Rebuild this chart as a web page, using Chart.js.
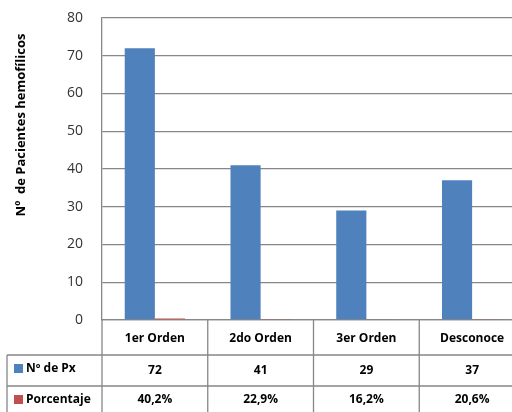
<!DOCTYPE html>
<html>
<head>
<meta charset="utf-8">
<script src="https://cdn.jsdelivr.net/npm/chart.js@4.4.1/dist/chart.umd.min.js"></script>
<style>
  html, body { margin: 0; padding: 0; background: #fff; overflow: hidden; }
  #wrap { width: 512px; height: 412px; overflow: hidden; }
</style>
</head>
<body>
<div id="wrap"><canvas id="grafico" width="528" height="412"></canvas></div>
<script>
// datos del grafico
const categorias = ['1er Orden', '2do Orden', '3er Orden', 'Desconoce'];
const nroPx = [72, 41, 29, 37];
const porcentaje = [40.2, 22.9, 16.2, 20.6];
const nombresSeries = ['Nº de Px', 'Porcentaje'];
const tituloY = 'Nº  de Pacientes hemofílicos';
const yMin = 0, yMax = 80, yPaso = 10;

const AZUL = '#4F81BD', ROJO = '#C0504D', GRIS = '#878787';
const FUENTE = '"Open Sans", Lato, sans-serif';

// tabla de datos debajo del eje (estilo Excel)
const tablaDatos = {
  id: 'tablaDatos',
  afterDraw(chart) {
    const ctx = chart.ctx, x = chart.scales.x, area = chart.chartArea;
    const bottom = 412, fila1 = 355, fila2 = 386, izq = 7;
    const paso = x.getPixelForValue(1) - x.getPixelForValue(0);
    ctx.save();
    ctx.strokeStyle = GRIS;
    ctx.lineWidth = 1.3;
    ctx.beginPath();
    // eje vertical hasta abajo
    ctx.moveTo(area.left, area.bottom); ctx.lineTo(area.left, bottom);
    // separadores de columnas
    for (let i = 0; i < categorias.length; i++) {
      const b = x.getPixelForValue(i) + paso / 2;
      ctx.moveTo(b, area.bottom); ctx.lineTo(b, bottom);
    }
    // filas
    ctx.moveTo(izq, fila1); ctx.lineTo(area.right, fila1);
    ctx.moveTo(izq, fila2); ctx.lineTo(area.right, fila2);
    ctx.moveTo(izq, fila1); ctx.lineTo(izq, bottom);
    ctx.stroke();

    ctx.fillStyle = '#000';
    ctx.font = 'bold 12px ' + FUENTE;
    ctx.textAlign = 'center';
    ctx.textBaseline = 'middle';
    categorias.forEach((c, i) => {
      const cx = x.getPixelForValue(i);
      ctx.fillText(c, cx, 339);
      ctx.fillText(String(nroPx[i]), cx, 371);
      ctx.fillText(porcentaje[i].toFixed(1).replace('.', ',') + '%', cx, 400);
    });
    // leyenda en la tabla
    ctx.textAlign = 'left';
    ctx.fillStyle = AZUL; ctx.fillRect(14, 364, 9, 9);
    ctx.fillStyle = ROJO; ctx.fillRect(14, 395, 9, 9);
    ctx.fillStyle = '#000';
    ctx.fillText(nombresSeries[0], 26, 369);
    ctx.fillText(nombresSeries[1], 26, 400);

    // titulo del eje Y
    ctx.translate(21, 125);
    ctx.rotate(-Math.PI / 2);
    ctx.textAlign = 'center';
    ctx.font = 'bold 13px ' + FUENTE;
    ctx.fillText(tituloY, 0, 0);
    ctx.restore();
  }
};

new Chart(document.getElementById('grafico'), {
  type: 'bar',
  data: {
    labels: categorias,
    datasets: [
      { label: nombresSeries[0], data: nroPx, backgroundColor: AZUL, borderWidth: 0 },
      { label: nombresSeries[1], data: porcentaje.map(v => v / 100), backgroundColor: ROJO, borderWidth: 0 }
    ]
  },
  options: {
    responsive: false,
    animation: false,
    events: [],
    layout: { padding: { top: 18, right: 3, bottom: 0, left: 0 } },
    datasets: { bar: { categoryPercentage: 0.57, barPercentage: 1 } },
    plugins: { legend: { display: false }, tooltip: { enabled: false } },
    scales: {
      x: {
        ticks: { display: false },
        grid: { display: false },
        border: { color: GRIS, width: 1.3 },
        afterFit(s) { s.height = 92; }
      },
      y: {
        min: yMin, max: yMax,
        ticks: { stepSize: yPaso, color: '#333', font: { family: FUENTE, size: 14 }, padding: 19 },
        grid: { color: GRIS, lineWidth: 1.3, drawTicks: false },
        border: { color: GRIS, width: 1.3 },
        afterFit(s) { s.width = 102; s.paddingTop = 0; s.paddingBottom = 0; }
      }
    }
  },
  plugins: [tablaDatos]
});
</script>
</body>
</html>
